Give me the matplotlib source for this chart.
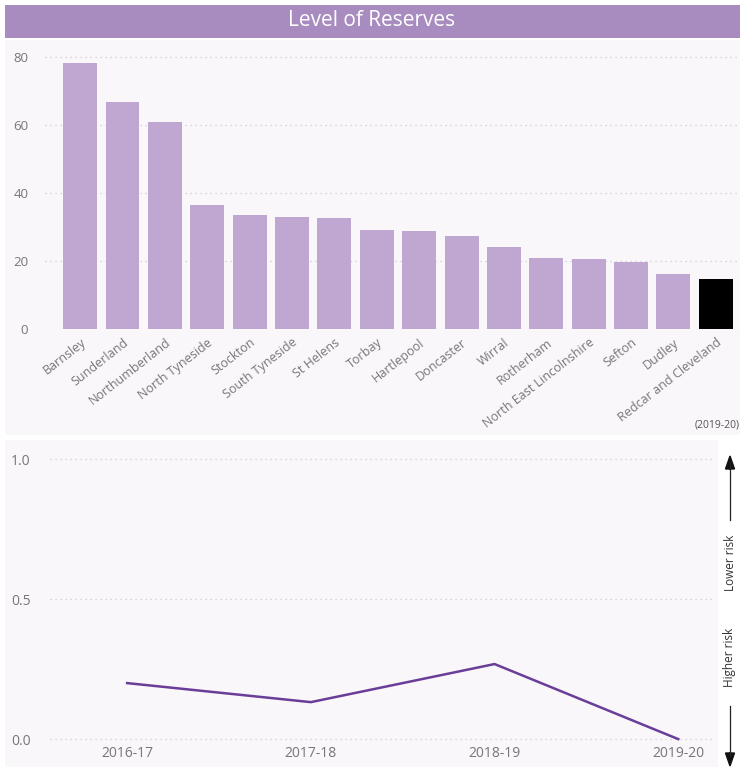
import matplotlib
matplotlib.use("Agg")
import matplotlib.pyplot as plt
from matplotlib.patches import Rectangle, FancyArrow
import numpy as np

areas = ["Barnsley", "Sunderland", "Northumberland", "North Tyneside", "Stockton",
         "South Tyneside", "St Helens", "Torbay", "Hartlepool", "Doncaster", "Wirral",
         "Rotherham", "North East Lincolnshire", "Sefton", "Dudley", "Redcar and Cleveland"]
reserves = [78.2, 66.8, 60.9, 36.5, 33.5, 32.9, 32.6, 29.1, 28.8, 27.4, 24.1,
            20.9, 20.6, 19.7, 16.2, 14.7]
highlight = "Redcar and Cleveland"

years = ["2016-17", "2017-18", "2018-19", "2019-20"]
risk = [0.20, 0.132, 0.268, 0.0]

W, H = 743, 767
fig = plt.figure(figsize=(W / 100, H / 100), dpi=100)
fig.patch.set_facecolor("white")

def fx(px):
    return px / W

def fy(py):
    return 1 - py / H

panel_bg = "#f9f7f9"
# panel backgrounds
fig.patches.append(Rectangle((fx(5), fy(435)), fx(735), 395 / H, transform=fig.transFigure,
                             facecolor=panel_bg, edgecolor="none", zorder=-2))
fig.patches.append(Rectangle((fx(5), fy(767)), fx(713), 327 / H, transform=fig.transFigure,
                             facecolor=panel_bg, edgecolor="none", zorder=-2))
# title band
fig.patches.append(Rectangle((fx(5), fy(38)), fx(735), 33 / H, transform=fig.transFigure,
                             facecolor="#a88bbf", edgecolor="none", zorder=-1))
fig.text(fx(372), fy(21), "Level of Reserves", color="white", fontsize=15,
         ha="center", va="center", family="Open Sans")

grey = "#777777"

# ---- top bar chart ----
ax1 = fig.add_axes([fx(45), fy(329), fx(737 - 45), (329 - 50) / H])
ax1.set_zorder(2)
ax1.set_facecolor("none")
x = np.arange(len(areas))
colors = ["#000000" if a == highlight else "#c0a7d2" for a in areas]
ax1.bar(x, reserves, width=0.8, color=colors, zorder=2)
ax1.set_xlim(-0.83, len(areas) - 0.5)
ax1.set_ylim(0, 82)
ax1.set_yticks([0, 20, 40, 60, 80])
ax1.grid(axis="y", linestyle=(0, (1, 3)), color="#cccccc", linewidth=0.9, zorder=0)
ax1.set_axisbelow(True)
for s in ax1.spines.values():
    s.set_visible(False)
ax1.tick_params(axis="both", length=0, colors=grey, labelsize=9.5)
ax1.tick_params(axis="y", pad=12)
ax1.tick_params(axis="x", pad=5)
ax1.set_xticks(x)
ax1.set_xticklabels(areas, rotation=38, ha="right", rotation_mode="anchor",
                    fontsize=9, color=grey, family="Open Sans")
for lab in ax1.get_yticklabels():
    lab.set_family("Open Sans")
fig.text(fx(740), fy(425), "(2019-20)", fontsize=7.5, color="#555555", ha="right",
         va="center", family="Open Sans")

# ---- bottom line chart ----
ax2 = fig.add_axes([fx(50), fy(745), fx(715 - 50), (745 - 452) / H])
ax2.set_zorder(2)
ax2.set_facecolor("none")
xi = np.arange(len(years))
ax2.plot(xi, risk, color="#6a3d99", linewidth=1.8, zorder=3)
ax2.set_xlim(-0.42, len(years) - 1 + 0.2)
ax2.set_ylim(-0.021, 1.025)
ax2.set_yticks([0.0, 0.5, 1.0])
ax2.set_yticklabels(["0.0", "0.5", "1.0"])
ax2.grid(axis="y", linestyle=(0, (1, 3)), color="#cccccc", linewidth=0.9, zorder=0)
for s in ax2.spines.values():
    s.set_visible(False)
ax2.set_xticks(xi)
ax2.set_xticklabels(years)
ax2.tick_params(axis="both", length=0, colors=grey, labelsize=10)
ax2.tick_params(axis="x", pad=1)
ax2.tick_params(axis="y", pad=14)
for lab in ax2.get_xticklabels() + ax2.get_yticklabels():
    lab.set_family("Open Sans")

# risk arrows on the right
ax_x = fx(730)
fig.add_artist(plt.Line2D([ax_x, ax_x], [fy(520), fy(462)], transform=fig.transFigure,
                          color="#222222", linewidth=0.9))
fig.patches.append(FancyArrow(ax_x, fy(470), 0, 14 / H, width=0,
                   head_width=9 / W, head_length=13 / H, length_includes_head=True,
                   transform=fig.transFigure, color="#111111"))
fig.add_artist(plt.Line2D([ax_x, ax_x], [fy(706), fy(755)], transform=fig.transFigure,
                          color="#222222", linewidth=0.9))
fig.patches.append(FancyArrow(ax_x, fy(752), 0, -14 / H, width=0,
                   head_width=9 / W, head_length=13 / H, length_includes_head=True,
                   transform=fig.transFigure, color="#111111"))
fig.text(ax_x, fy(563), "Lower risk", rotation=90, fontsize=8.5, color="#333333",
         ha="center", va="center", family="Open Sans")
fig.text(ax_x, fy(657), "Higher risk", rotation=90, fontsize=8.5, color="#333333",
         ha="center", va="center", family="Open Sans")

fig.savefig("out.png", dpi=100)
